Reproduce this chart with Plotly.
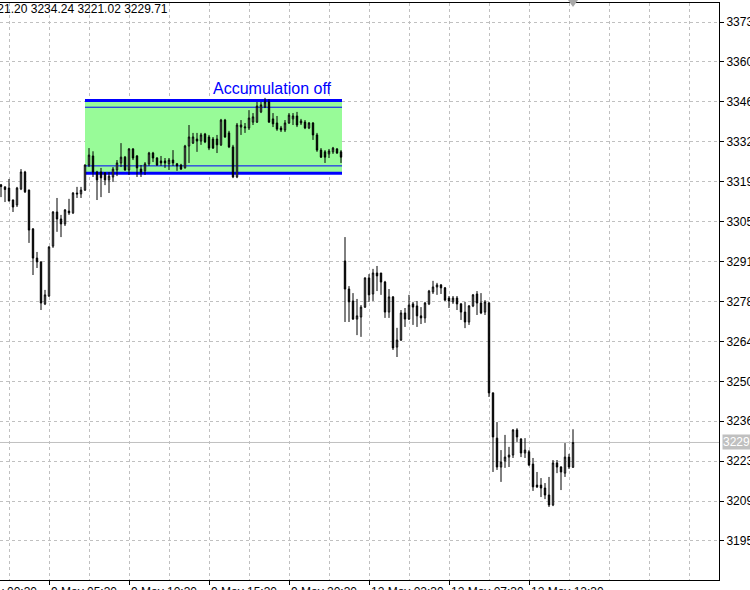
import plotly.graph_objects as go

# ---- data (XAUUSD M15) ----
opens = [
    3318.0, 3317.3, 3316.9, 3312.8, 3311.1, 3316.6, 3322.4, 3316.2, 3302.9, 3292.9,
    3291.6, 3277.2, 3279.9, 3297.0, 3308.7, 3306.3, 3304.6, 3309.0, 3308.4, 3315.2,
    3314.9, 3316.2, 3324.8, 3327.9, 3322.4, 3322.4, 3322.1, 3319.7, 3320.7, 3323.1,
    3325.5, 3327.5, 3323.1, 3330.3, 3327.9, 3323.4, 3322.8, 3325.2, 3328.9, 3327.2,
    3326.2, 3326.2, 3325.2, 3326.5, 3325.2, 3324.8, 3323.8, 3331.3, 3332.3, 3333.7,
    3333.0, 3335.4, 3334.4, 3333.7, 3333.7, 3331.7, 3340.2, 3335.8, 3331.0, 3320.7,
    3337.8, 3337.5, 3337.5, 3339.5, 3339.5, 3343.0, 3344.7, 3346.4, 3340.6, 3339.2,
    3337.5, 3336.8, 3339.2, 3340.6, 3341.6, 3339.2, 3339.5, 3337.5, 3339.2, 3335.1,
    3329.9, 3329.3, 3328.6, 3329.3, 3330.3, 3329.3,
    3291.9, 3282.3, 3278.2, 3272.0, 3272.7, 3276.1, 3286.1, 3280.6, 3287.8, 3287.8,
    3284.7, 3274.4, 3279.6, 3262.4, 3264.8, 3274.1, 3272.0, 3277.2, 3276.5, 3273.1,
    3272.4, 3277.2, 3281.3, 3283.0, 3283.7, 3282.7, 3279.2, 3277.9, 3279.2, 3277.2,
    3274.4, 3271.0, 3276.5, 3280.6, 3277.5, 3274.4, 3277.5, 3246.7, 3231.2, 3221.3,
    3223.4, 3224.7, 3225.4, 3234.0, 3230.9, 3226.1, 3226.5, 3222.3, 3215.1, 3215.1,
    3214.1, 3211.7, 3208.3, 3222.7, 3221.3, 3219.2, 3224.7, 3221.20,
]
highs = [
    3318.3, 3317.5, 3320.0, 3313.0, 3317.3, 3323.4, 3322.8, 3316.4, 3303.2, 3295.0,
    3291.8, 3282.0, 3297.0, 3309.0, 3313.5, 3307.7, 3309.7, 3313.2, 3315.5, 3317.3,
    3317.3, 3325.0, 3330.6, 3329.5, 3322.8, 3323.8, 3322.4, 3322.4, 3324.1, 3326.5,
    3332.3, 3327.9, 3330.6, 3330.6, 3328.2, 3324.8, 3325.8, 3329.3, 3329.3, 3327.5,
    3327.9, 3327.2, 3327.2, 3329.9, 3325.5, 3325.2, 3331.7, 3338.5, 3335.8, 3335.8,
    3335.8, 3335.8, 3335.1, 3334.4, 3335.1, 3340.6, 3340.6, 3336.5, 3331.7, 3339.2,
    3340.2, 3339.2, 3343.6, 3342.6, 3346.4, 3346.4, 3347.8, 3347.4, 3342.6, 3341.6,
    3338.2, 3340.2, 3342.6, 3342.6, 3343.0, 3340.6, 3340.2, 3339.5, 3339.5, 3335.8,
    3330.6, 3329.9, 3330.3, 3331.0, 3330.6, 3329.9,
    3300.1, 3283.3, 3280.9, 3278.9, 3276.8, 3286.3, 3287.4, 3289.2, 3290.2, 3287.8,
    3285.1, 3282.3, 3279.9, 3269.0, 3275.1, 3275.8, 3280.3, 3277.9, 3278.2, 3276.1,
    3277.9, 3282.0, 3285.1, 3284.4, 3284.0, 3283.0, 3279.9, 3279.9, 3279.9, 3277.5,
    3277.9, 3276.8, 3280.6, 3281.6, 3280.9, 3278.5, 3277.9, 3246.9, 3236.7, 3227.1,
    3232.3, 3228.2, 3234.3, 3234.6, 3231.2, 3231.2, 3227.1, 3224.4, 3219.6, 3217.5,
    3215.8, 3217.9, 3223.7, 3223.7, 3221.6, 3229.5, 3225.8, 3234.24,
]
lows = [
    3313.8, 3312.1, 3312.3, 3308.7, 3310.4, 3316.2, 3315.2, 3298.1, 3287.1, 3289.5,
    3275.1, 3276.8, 3279.6, 3296.4, 3301.9, 3300.1, 3303.9, 3307.7, 3308.0, 3313.5,
    3313.5, 3315.9, 3324.1, 3320.7, 3312.8, 3313.8, 3317.9, 3315.2, 3319.0, 3321.0,
    3324.1, 3322.8, 3321.4, 3326.5, 3320.7, 3320.7, 3321.4, 3324.5, 3325.8, 3324.5,
    3324.5, 3323.8, 3323.1, 3324.5, 3322.8, 3323.1, 3323.6, 3325.5, 3332.0, 3329.3,
    3331.7, 3332.3, 3329.9, 3330.3, 3328.9, 3331.3, 3334.1, 3330.6, 3320.3, 3320.3,
    3335.1, 3335.8, 3336.8, 3338.5, 3339.2, 3342.6, 3344.3, 3339.2, 3337.8, 3336.5,
    3336.1, 3336.1, 3338.9, 3338.5, 3337.8, 3338.5, 3337.1, 3337.1, 3333.4, 3329.3,
    3327.2, 3325.5, 3327.2, 3328.6, 3328.6, 3325.5,
    3271.0, 3271.0, 3271.7, 3266.5, 3265.9, 3275.8, 3277.9, 3278.2, 3281.6, 3280.3,
    3272.4, 3272.4, 3261.4, 3259.0, 3264.5, 3269.3, 3271.7, 3270.0, 3269.3, 3270.3,
    3270.7, 3276.8, 3280.6, 3280.3, 3280.6, 3278.2, 3275.8, 3277.2, 3275.1, 3271.7,
    3268.9, 3270.0, 3276.1, 3273.4, 3273.7, 3273.4, 3245.3, 3219.6, 3220.3, 3216.2,
    3221.0, 3221.3, 3224.4, 3229.9, 3224.7, 3224.4, 3221.6, 3213.1, 3214.1, 3211.0,
    3210.3, 3207.6, 3207.9, 3219.2, 3213.4, 3217.9, 3220.6, 3221.02,
]
closes = [
    3317.4, 3316.4, 3312.5, 3310.4, 3316.9, 3322.4, 3315.6, 3302.5, 3292.9, 3291.6,
    3277.5, 3280.3, 3296.7, 3308.7, 3306.3, 3304.6, 3309.4, 3308.4, 3315.2, 3314.9,
    3316.2, 3324.8, 3328.2, 3322.4, 3319.7, 3320.4, 3319.7, 3321.0, 3323.4, 3325.5,
    3327.5, 3323.1, 3330.3, 3327.2, 3323.8, 3322.4, 3325.2, 3328.9, 3327.2, 3324.8,
    3325.5, 3325.5, 3326.5, 3325.5, 3324.5, 3323.4, 3331.3, 3334.4, 3334.4, 3333.0,
    3335.1, 3332.7, 3330.6, 3330.6, 3331.7, 3340.2, 3334.4, 3331.0, 3320.7, 3338.5,
    3338.5, 3337.8, 3340.9, 3341.3, 3345.0, 3345.4, 3346.4, 3339.5, 3338.9, 3337.1,
    3336.8, 3339.2, 3341.9, 3341.6, 3338.5, 3339.9, 3337.5, 3339.2, 3335.1, 3329.9,
    3327.5, 3327.5, 3329.6, 3330.6, 3328.9, 3327.5,
    3282.3, 3277.9, 3272.0, 3273.1, 3276.1, 3286.1, 3280.3, 3287.8, 3286.8, 3284.7,
    3274.4, 3279.6, 3262.1, 3264.8, 3274.1, 3272.0, 3276.8, 3276.1, 3273.1, 3272.4,
    3277.5, 3281.6, 3283.0, 3283.7, 3282.7, 3278.5, 3278.2, 3279.2, 3277.2, 3274.4,
    3271.0, 3276.5, 3280.3, 3277.5, 3274.1, 3277.9, 3246.7, 3231.6, 3221.3, 3223.0,
    3224.7, 3225.4, 3234.0, 3231.6, 3226.1, 3227.1, 3222.0, 3214.5, 3214.5, 3214.1,
    3211.7, 3208.3, 3222.7, 3221.3, 3219.6, 3224.7, 3221.3, 3229.71,
]
bar_index = list(range(len(closes)))

# price scale labels
y_tick_values = [3195.95, 3209.63, 3223.31, 3236.99, 3250.67, 3264.35, 3278.03,
                 3291.71, 3305.39, 3319.07, 3332.75, 3346.43, 3360.11, 3373.79]
y_tick_labels = ["%.2f" % v for v in y_tick_values]

# time scale labels (bar index -> label); the first one starts left of the window
x_tick_bars = [-8, 12, 32, 52, 72, 92, 112, 132]
x_tick_labels = ["9 May 00:30", "9 May 05:30", "9 May 10:30", "9 May 15:30", "9 May 20:30",
                 "12 May 02:30", "12 May 07:30", "12 May 12:30"]
x_grid_bars = [2, 22, 42, 62, 82, 102, 122, 142, 152, 162, 172]

# accumulation zone
zone_start, zone_end = 21, 85.25
zone_top, zone_top_inner = 3346.9, 3344.6
zone_bottom_inner, zone_bottom = 3324.5, 3322.0
zone_label = "Accumulation off"
zone_label_pos = (67.75, 3350.85)

header_text = "3221.20 3234.24 3221.02 3229.71"
last_price = 3229.71

# ---- figure ----
W, H = 750, 590
ML, MR, MT, MB = 0, 31, 3, 10
PW, PH = W - ML - MR, H - MT - MB
FONT = "Liberation Sans, Arial"
FS = 12
X0, X1 = -0.25, 179.5

fig = go.Figure()
fig.add_trace(go.Candlestick(
    x=bar_index, open=opens, high=highs, low=lows, close=closes,
    increasing=dict(line=dict(color="black", width=1), fillcolor="white"),
    decreasing=dict(line=dict(color="black", width=1), fillcolor="black"),
    whiskerwidth=0, hoverinfo="skip", showlegend=False,
))

shapes = []
shapes.append(dict(type="rect", xref="x", yref="y", x0=zone_start, x1=zone_end,
                   y0=zone_bottom, y1=zone_top, fillcolor="#98FB98",
                   line=dict(width=0), layer="between"))
for yv, wd in [(zone_top, 3), (zone_top_inner, 1), (zone_bottom_inner, 1), (zone_bottom, 3)]:
    shapes.append(dict(type="line", xref="x", yref="y", x0=zone_start, x1=zone_end,
                       y0=yv, y1=yv, line=dict(color="#0000FF", width=wd), layer="between"))
shapes.append(dict(type="line", xref="paper", yref="y", x0=0, x1=1, y0=last_price,
                   y1=last_price, line=dict(color="#C0C0C0", width=1), layer="between"))
ytop = 1 + MT / PH
ybot = 1 - 4 / PH
shapes.append(dict(type="path", xref="x", yref="paper",
                   path=f"M 141.75 {ytop} L 144.25 {ytop} L 143 {ybot} Z",
                   fillcolor="#A8A8A8", line=dict(width=0), layer="above"))

annotations = [
    dict(text=zone_label, x=zone_label_pos[0], y=zone_label_pos[1], xref="x", yref="y",
         showarrow=False, font=dict(color="#0000FF", size=16, family=FONT),
         xanchor="center", yanchor="middle"),
    dict(text=header_text, x=170 / PW, y=1 + MT / PH, xref="paper", yref="paper",
         showarrow=False, xanchor="right", yanchor="top",
         font=dict(color="black", size=FS, family=FONT)),
    dict(text="%.2f" % last_price, x=1 + 3 / PW, y=last_price, xref="paper", yref="y",
         showarrow=False, xanchor="left", yanchor="middle", bgcolor="#C0C0C0",
         font=dict(color="white", size=FS, family=FONT), borderpad=0),
]
# time labels, left-aligned at their tick like the terminal draws them
for b, t in zip(x_tick_bars, x_tick_labels):
    annotations.append(dict(text=t, x=(b - X0) / (X1 - X0), y=-3 / PH,
                            xref="paper", yref="paper", showarrow=False,
                            xanchor="left", yanchor="top",
                            font=dict(color="black", size=FS, family=FONT)))

fig.update_layout(
    width=W, height=H,
    margin=dict(l=ML, r=MR, t=MT, b=MB, pad=0, autoexpand=False),
    paper_bgcolor="white", plot_bgcolor="white",
    font=dict(family=FONT, size=FS, color="black"),
    boxgap=0.5,
    shapes=shapes, annotations=annotations,
    xaxis=dict(
        range=[X0, X1], rangeslider=dict(visible=False), automargin=False,
        tickmode="array", tickvals=x_tick_bars[1:], ticktext=[""] * (len(x_tick_bars) - 1),
        ticks="outside", ticklen=4, tickcolor="black",
        showgrid=True, gridcolor="#C0C0C0", griddash="3px,3px", gridwidth=1,
        minor=dict(tickmode="array", tickvals=x_grid_bars, showgrid=True,
                   gridcolor="#C0C0C0", griddash="3px,3px", ticks=""),
        showline=True, linecolor="black", linewidth=1, mirror=True,
        zeroline=False, fixedrange=True,
    ),
    yaxis=dict(
        side="right", range=[3182.58, 3380.32], automargin=False,
        tickmode="array", tickvals=y_tick_values, ticktext=y_tick_labels,
        ticks="outside", ticklen=4, tickcolor="black",
        showgrid=True, gridcolor="#C0C0C0", griddash="3px,3px", gridwidth=1,
        showline=True, linecolor="black", linewidth=1,
        zeroline=False, fixedrange=True,
    ),
)

fig.write_html("out.html", config={"displayModeBar": False},
               post_script="document.body.style.margin='0';")
